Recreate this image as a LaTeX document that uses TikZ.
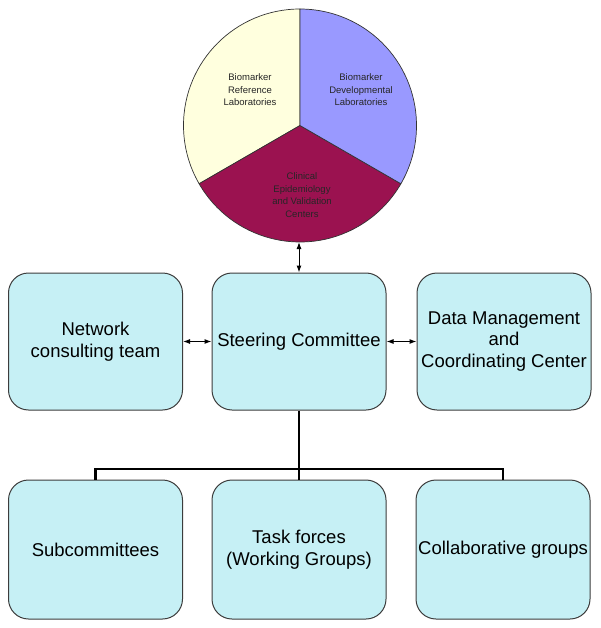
\documentclass[tikz,border=0pt]{standalone}
\usepackage{fontspec}
\setmainfont{Liberation Sans}
\usetikzlibrary{arrows.meta}
\definecolor{boxfill}{RGB}{198,240,245}
\definecolor{boxline}{RGB}{60,60,60}
\definecolor{pieyellow}{RGB}{255,255,222}
\definecolor{pieblue}{RGB}{153,153,255}
\definecolor{piered}{RGB}{155,18,80}

\begin{document}
\begin{tikzpicture}[x=1pt,y=-1pt,
  unit/.style={draw=boxline,line width=1pt,fill=boxfill,rounded corners=20pt,
    minimum width=174pt,minimum height=137pt,inner sep=1pt,align=center,
    font=\fontsize{18.5}{21.5}\selectfont},
  slice/.style={draw=black!80,line width=0.7pt},
  slicetext/.style={align=center,inner sep=0pt,text=black!85,
    font=\fontsize{9.5}{12.5}\selectfont},
  link/.style={{Latex[length=7pt,width=5pt]}-{Latex[length=7pt,width=5pt]},line width=1pt},
  tree/.style={line width=2.8pt}]
\useasboundingbox (0,0) rectangle (601,628);
\begin{scope}[shift={(300,125.5)},y=1pt]
\filldraw[slice,fill=pieyellow] (0,0) -- (90:116.5) arc[start angle=90,end angle=210,radius=116.5] -- cycle;
\filldraw[slice,fill=piered] (0,0) -- (210:116.5) arc[start angle=210,end angle=330,radius=116.5] -- cycle;
\filldraw[slice,fill=pieblue] (0,0) -- (330:116.5) arc[start angle=330,end angle=450,radius=116.5] -- cycle;
\end{scope}
\node[slicetext] (refl) at (250,90) {Biomarker\\Reference\\Laboratories};
\node[slicetext] (devl) at (361,90) {Biomarker\\Developmental\\Laboratories};
\node[slicetext] (cevc) at (302,195) {Clinical\\Epidemiology\\and Validation\\Centers};
\coordinate (piebottom) at (299,242);
\node[unit] (net) at (95.5,341.5) {Network\\consulting team};
\node[unit] (steer) at (299,341.5) {Steering Committee};
\node[unit] (dmcc) at (504,341.5) {Data Management\\and\\Coordinating Center};
\node[unit,minimum height=139pt] (sub) at (95.5,549.5) {Subcommittees};
\node[unit,minimum height=139pt] (task) at (299,549.5) {Task forces\\(Working Groups)};
\node[unit,minimum height=139pt] (collab) at (503,549.5) {Collaborative groups};
\coordinate (bus) at (299,469);
\draw[link] (piebottom) -- (steer.north);
\draw[link] (net.east) -- (steer.west);
\draw[link] (steer.east) -- (dmcc.west);
\draw[tree] (steer.south) -- (task.north);
\draw[tree] (sub.north) |- (bus) -| (collab.north);
\end{tikzpicture}
\end{document}
